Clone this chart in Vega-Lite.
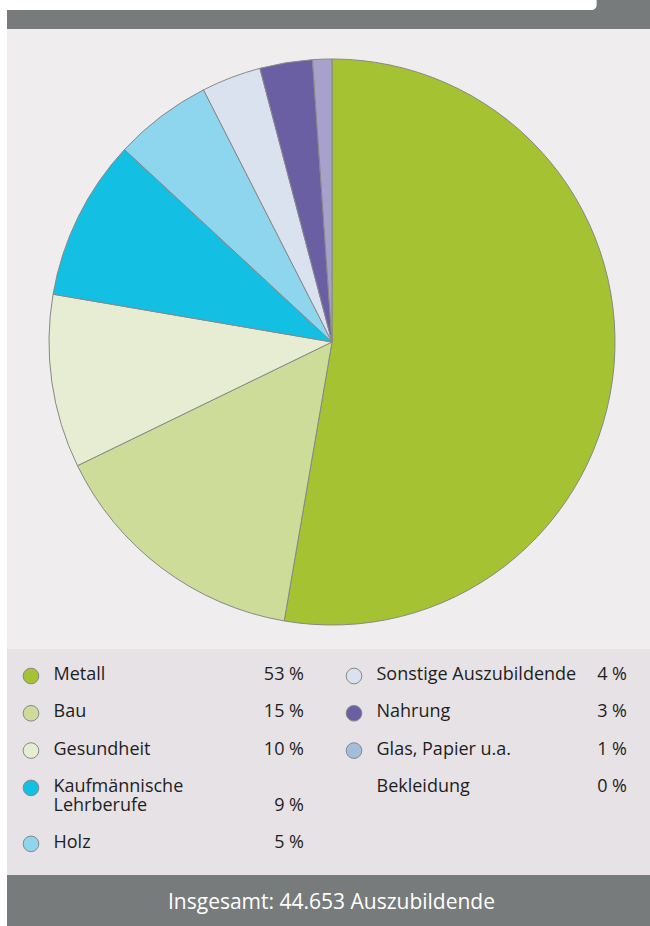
{
  "$schema": "https://vega.github.io/schema/vega-lite/v6.json",
  "background": "white",
  "padding": {"left": 7, "top": 0, "right": 0, "bottom": 0},
  "spacing": 0,
  "bounds": "flush",
  "config": {"view": {"stroke": null}, "font": "Open Sans"},
  "resolve": {"scale": {"color": "independent"}},
  "datasets": {
    "kategorien": [
      {"nr": 1, "kategorie": "Metall", "text": "Metall", "anteil": 52.7, "prozent": "53 %", "spalte": 0, "zeile": 0, "zeile_pct": 0},
      {"nr": 2, "kategorie": "Bau", "text": "Bau", "anteil": 15.1, "prozent": "15 %", "spalte": 0, "zeile": 2, "zeile_pct": 2},
      {"nr": 3, "kategorie": "Gesundheit", "text": "Gesundheit", "anteil": 9.9, "prozent": "10 %", "spalte": 0, "zeile": 4, "zeile_pct": 4},
      {"nr": 4, "kategorie": "Kaufmännische Lehrberufe", "text": ["Kaufmännische", "Lehrberufe"], "anteil": 9.2, "prozent": "9 %", "spalte": 0, "zeile": 6, "zeile_pct": 7},
      {"nr": 5, "kategorie": "Holz", "text": "Holz", "anteil": 5.6, "prozent": "5 %", "spalte": 0, "zeile": 9, "zeile_pct": 9},
      {"nr": 6, "kategorie": "Sonstige Auszubildende", "text": "Sonstige Auszubildende", "anteil": 3.4, "prozent": "4 %", "spalte": 1, "zeile": 0, "zeile_pct": 0},
      {"nr": 7, "kategorie": "Nahrung", "text": "Nahrung", "anteil": 3.0, "prozent": "3 %", "spalte": 1, "zeile": 2, "zeile_pct": 2},
      {"nr": 8, "kategorie": "Glas, Papier u.a.", "text": "Glas, Papier u.a.", "anteil": 1.1, "prozent": "1 %", "spalte": 1, "zeile": 4, "zeile_pct": 4},
      {"nr": 9, "kategorie": "Bekleidung", "text": "Bekleidung", "anteil": 0, "prozent": "0 %", "spalte": 1, "zeile": 6, "zeile_pct": 6}
    ]
  },
  "vconcat": [
    {
      "width": 643,
      "height": 29,
      "view": {"fill": "#777b7b"},
      "data": {"values": [{"teil": "Kopf"}]},
      "mark": {"type": "rect", "color": "white", "cornerRadiusBottomRight": 12},
      "encoding": {
        "x": {"datum": 0, "type": "quantitative", "scale": {"domain": [0, 1]}, "axis": null},
        "x2": {"datum": 0.917},
        "y": {"datum": 0, "type": "quantitative", "scale": {"domain": [0, 1], "reverse": true}, "axis": null},
        "y2": {"datum": 0.345}
      }
    },
    {
      "width": 643,
      "height": 620,
      "view": {"fill": "#efedee"},
      "data": {"name": "kategorien"},
      "transform": [{"filter": "datum.anteil > 0"}],
      "mark": {"type": "arc", "outerRadius": 283, "stroke": "#888888", "strokeWidth": 1, "xOffset": 3.5, "yOffset": 3},
      "encoding": {
        "theta": {"field": "anteil", "type": "quantitative", "stack": true},
        "order": {"field": "nr", "type": "quantitative", "sort": "ascending"},
        "color": {
          "field": "kategorie",
          "type": "nominal",
          "scale": {
            "domain": ["Metall", "Bau", "Gesundheit", "Kaufmännische Lehrberufe", "Holz", "Sonstige Auszubildende", "Nahrung", "Glas, Papier u.a.", "Bekleidung"],
            "range": ["#a5c232", "#cddc98", "#e6edd2", "#13c0e3", "#8dd6ee", "#dae2f0", "#6b5fa3", "#a8a1cb", "#e6e2e5"]
          },
          "legend": null
        }
      }
    },
    {
      "width": 643,
      "height": 226,
      "view": {"fill": "#e6e2e5"},
      "data": {"name": "kategorien"},
      "encoding": {
        "x": {"field": "spalte", "type": "quantitative", "scale": {"domain": [0, 1], "range": [24, 347]}, "axis": null},
        "y": {"field": "zeile", "type": "quantitative", "scale": {"domain": [-1.394, 10.724], "reverse": true, "nice": false, "zero": false}, "axis": null}
      },
      "layer": [
        {
          "transform": [{"filter": "datum.anteil > 0"}],
          "mark": {"type": "point", "shape": "circle", "filled": true, "size": 245, "stroke": "#888888", "strokeWidth": 1, "opacity": 1, "yOffset": 1},
          "encoding": {
            "color": {
              "field": "kategorie",
              "type": "nominal",
              "scale": {
                "domain": ["Metall", "Bau", "Gesundheit", "Kaufmännische Lehrberufe", "Holz", "Sonstige Auszubildende", "Nahrung", "Glas, Papier u.a.", "Bekleidung"],
                "range": ["#a5c232", "#cddc98", "#e6edd2", "#13c0e3", "#8dd6ee", "#dae2f0", "#6b5fa3", "#a3bedb", "#e6e2e5"]
              },
              "legend": null
            }
          }
        },
        {
          "mark": {"type": "text", "align": "left", "baseline": "top", "dx": 22.5, "dy": -9, "fontSize": 18, "lineHeight": 19, "color": "#1e1e1e"},
          "encoding": {"text": {"field": "text", "type": "nominal"}}
        },
        {
          "mark": {"type": "text", "align": "right", "baseline": "middle", "dx": 273, "fontSize": 18, "color": "#1e1e1e"},
          "encoding": {
            "y": {"field": "zeile_pct", "type": "quantitative"},
            "text": {"field": "prozent", "type": "nominal"}
          }
        },
        {
          "data": {"values": [{"linie": "Trenner"}]},
          "mark": {"type": "rule", "color": "#9a9a9a", "strokeWidth": 1},
          "encoding": {"x": {"datum": 0.9288, "type": "quantitative"}, "y": null}
        },
        {
          "data": {"values": [{"linie": "oben"}]},
          "mark": {"type": "rule", "color": "#9a9a9a", "strokeWidth": 1.5},
          "encoding": {"x": null, "y": {"datum": -1.394, "type": "quantitative"}}
        }
      ]
    },
    {
      "width": 643,
      "height": 51,
      "view": {"fill": "#777b7b"},
      "data": {"values": [{"summe": "Insgesamt: 44.653 Auszubildende"}]},
      "mark": {"type": "text", "color": "white", "fontSize": 21, "dy": 2, "dx": 3},
      "encoding": {"text": {"field": "summe", "type": "nominal"}}
    }
  ]
}
